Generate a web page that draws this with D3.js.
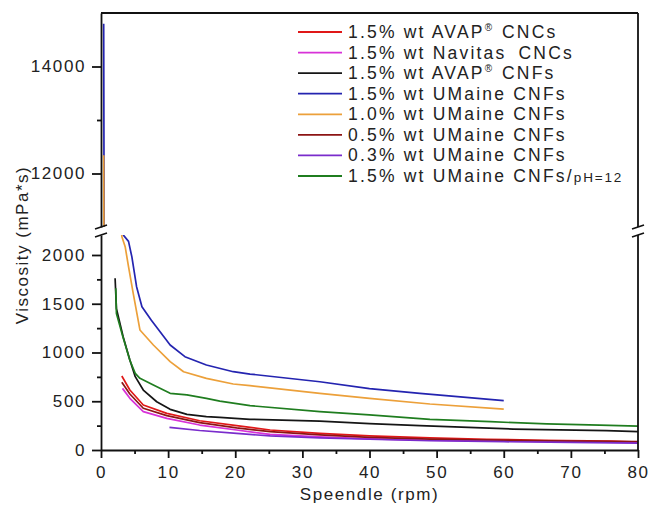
<!DOCTYPE html>
<html>
<head>
<meta charset="utf-8">
<script src="https://cdn.jsdelivr.net/npm/d3@7"></script>
<style>
  body { margin: 0; background: #fff; }
  text { font-family: "Liberation Sans", Arial, sans-serif; fill: #222; }
</style>
</head>
<body>
<div class="chart"></div>
<script>
// Viscosity vs spindle speed, broken y axis

// ---- data ----
let xTicks = [0, 10, 20, 30, 40, 50, 60, 70, 80];
let xMinor = [5, 15, 25, 35, 45, 55, 65, 75];
let yLowTicks = [0, 500, 1000, 1500, 2000];
let yLowMinor = [250, 750, 1250, 1750];
let yHighTicks = [12000, 14000];
let yHighMinor = [13000];

let seriesNames = [
  "AVAP CNCs 1.5", "Navitas CNCs 1.5", "AVAP CNFs 1.5", "UMaine CNFs 1.5",
  "UMaine CNFs 1.0", "UMaine CNFs 0.5", "UMaine CNFs 0.3", "UMaine CNFs 1.5 pH12"
];

let avapCNC = [[3.1,759],[4.3,615],[6.3,462],[9.8,376],[14.7,300],[20.2,250],[25.2,205],[32.6,171],[40,145],[49,125],[57.5,110],[66,100],[76,92],[80,80]];
let navitasCNC = [[3.2,632],[4.3,530],[6.3,393],[9.8,325],[14.7,256],[20.2,205],[25.2,160],[32.6,135],[40,115],[49,100],[60,92],[70,85],[80,75]];
let avapCNF = [[2.1,1761],[2.3,1450],[3.3,1162],[4.3,923],[5.1,752],[6.3,615],[8.3,495],[10.3,417],[12.8,365],[15.7,342],[17.7,335],[22.2,315],[32.6,297],[40,270],[47.5,250],[61.4,215],[75.3,198],[80,188]];
let umaine15 = [[0.4,14800],[0.5,9000],[3.2,2215],[4.1,2140],[4.6,1980],[5.3,1675],[6.1,1470],[7.5,1330],[10.3,1077],[12.5,957],[15.7,872],[19.7,803],[22.2,779],[32.6,700],[40,630],[47.5,581],[60,506]];
let umaine10 = [[0.4,12340],[0.5,8000],[3.1,2190],[3.6,2085],[4.1,1880],[4.8,1607],[5.8,1231],[7.8,1077],[10.3,906],[12.3,803],[15.7,735],[19.7,677],[22.2,660],[32.6,581],[40,530],[49,472],[60,420]];
let umaine05 = [[3.1,694],[4.3,574],[6.3,428],[9.8,352],[14.7,280],[20.2,227],[25.2,188],[32.6,155],[40,130],[49,112],[60,100],[70,92],[80,85]];
let umaine03 = [[10.2,232],[14.7,200],[20.2,170],[25.2,144],[32.6,125],[40,110],[49,95],[60,85],[70,78],[80,70]];
let umainePH12 = [[2.2,1658],[2.3,1400],[3.3,1150],[4.3,920],[5.1,786],[5.8,735],[7.8,667],[10.3,581],[12.8,565],[15.7,530],[17.7,502],[22.2,455],[32.6,393],[40,360],[49,315],[58,290],[66.4,267],[74.3,256],[80,245]];

let allSeries = [avapCNC, navitasCNC, avapCNF, umaine15, umaine10, umaine05, umaine03, umainePH12];
let colors = ["#e01818", "#d832d8", "#151515", "#2424b0", "#eca03a", "#8c1414", "#7a2ccc", "#1f7d1f"];

// ---- layout ----
let svgWidth = 653;
let svgHeight = 505;
let plotLeft = 101, plotRight = 638, plotTop = 13, plotBottom = 450;
let highBottom = 227, lowTop = 235;

let svg = d3.select(".chart")
  .append("svg")
  .attr("width", svgWidth)
  .attr("height", svgHeight);

let xScale = d3.scaleLinear().domain([0, 80]).range([plotLeft, plotRight]);
let yLow = d3.scaleLinear().domain([0, 2205]).range([plotBottom, lowTop]);
let yHigh = d3.scaleLinear().domain([11000, 15000]).range([highBottom, plotTop]);

// clip regions for the two panels
let defs = svg.append("defs");
defs.append("clipPath").attr("id", "clipHigh").append("rect")
  .attr("x", plotLeft).attr("y", plotTop).attr("width", plotRight - plotLeft).attr("height", highBottom - plotTop);
defs.append("clipPath").attr("id", "clipLow").append("rect")
  .attr("x", plotLeft).attr("y", lowTop).attr("width", plotRight - plotLeft).attr("height", plotBottom - lowTop);

// series lines
[["clipHigh", yHigh], ["clipLow", yLow]].forEach(function(p) {
  let line = d3.line().x(d => xScale(d[0])).y(d => p[1](d[1]));
  let g = svg.append("g").attr("clip-path", `url(#${p[0]})`);
  allSeries.forEach(function(s, i) {
    g.append("path")
      .attr("d", line(s))
      .attr("fill", "none")
      .attr("stroke", colors[i])
      .attr("stroke-width", 1.7)
      .attr("stroke-linejoin", "round");
  });
});

function styleAxis(g) {
  g.selectAll("path, line").attr("stroke", "#111").attr("stroke-width", 1.8);
  g.selectAll("text")
    .style("font-family", '"Liberation Sans", Arial, sans-serif')
    .style("font-size", "17px")
    .style("letter-spacing", "1.6px")
    .attr("fill", "#222");
}

let fmt = d3.format("d");

// x axis
let xAxisG = svg.append("g").attr("transform", `translate(0, ${plotBottom})`)
  .call(d3.axisBottom(xScale).tickValues(xTicks).tickFormat(fmt).tickSize(8).tickSizeOuter(0).tickPadding(8));
styleAxis(xAxisG);
let xMinorG = svg.append("g").attr("transform", `translate(0, ${plotBottom})`)
  .call(d3.axisBottom(xScale).tickValues(xMinor).tickSize(4).tickFormat(""));
xMinorG.select(".domain").remove();
styleAxis(xMinorG);

// y axes (two segments)
[[yLow, yLowTicks, yLowMinor], [yHigh, yHighTicks, yHighMinor]].forEach(function(a) {
  let g = svg.append("g").attr("transform", `translate(${plotLeft}, 0)`)
    .call(d3.axisLeft(a[0]).tickValues(a[1]).tickFormat(fmt).tickSize(9).tickSizeOuter(0).tickPadding(6));
  styleAxis(g);
  let m = svg.append("g").attr("transform", `translate(${plotLeft}, 0)`)
    .call(d3.axisLeft(a[0]).tickValues(a[2]).tickSize(4).tickFormat(""));
  m.select(".domain").remove();
  styleAxis(m);
});

// frame: top and right (with break)
let frame = svg.append("g").attr("stroke", "#111").attr("stroke-width", 1.8).attr("fill", "none");
frame.append("line").attr("x1", plotLeft).attr("x2", plotRight).attr("y1", plotTop).attr("y2", plotTop);
frame.append("line").attr("x1", plotRight).attr("x2", plotRight).attr("y1", plotTop).attr("y2", highBottom);
frame.append("line").attr("x1", plotRight).attr("x2", plotRight).attr("y1", lowTop).attr("y2", plotBottom);

// break marks
[plotLeft, plotRight].forEach(function(xp) {
  [highBottom, lowTop].forEach(function(yp) {
    frame.append("line")
      .attr("x1", xp - 6).attr("y1", yp + 2)
      .attr("x2", xp + 6).attr("y2", yp - 2)
      .attr("stroke-width", 1.5);
  });
});

// axis titles
svg.append("text")
  .attr("x", (plotLeft + plotRight) / 2)
  .attr("y", 500)
  .attr("text-anchor", "middle")
  .style("font-size", "17px")
  .style("letter-spacing", "1.6px")
  .text("Speendle (rpm)");

svg.append("text")
  .attr("transform", "translate(28, 245) rotate(-90)")
  .attr("text-anchor", "middle")
  .style("font-size", "17px")
  .style("letter-spacing", "1.5px")
  .text("Viscosity (mPa*s)");

// legend
let legend = svg.append("g");
let rowY = d3.scaleLinear().domain([0, 7]).range([32, 176]);
seriesNames.forEach(function(name, i) {
  let y = rowY(i);
  legend.append("line")
    .attr("x1", 298).attr("x2", 342)
    .attr("y1", y).attr("y2", y)
    .attr("stroke", colors[i]).attr("stroke-width", 1.8);
  let t = legend.append("text")
    .attr("x", 348).attr("y", y + 6)
    .style("font-size", "17.5px")
    .style("letter-spacing", "2.2px");
  if (i === 0 || i === 2) {
    t.append("tspan").text("1.5% wt AVAP");
    t.append("tspan").attr("dy", -7).style("font-size", "10px").style("letter-spacing", "0px").text("®");
    t.append("tspan").attr("dy", 7).attr("dx", 10).text(i === 0 ? "CNCs" : "CNFs");
  } else if (i === 1) {
    t.append("tspan").text("1.5% wt Navitas");
    t.append("tspan").attr("dx", 12).text("CNCs");
  } else if (i === 7) {
    t.append("tspan").text("1.5% wt UMaine CNFs/");
    t.append("tspan").style("font-size", "13.5px").style("letter-spacing", "1.8px").text("pH=12");
  } else {
    let pct = { 3: "1.5", 4: "1.0", 5: "0.5", 6: "0.3" }[i];
    t.text(`${pct}% wt UMaine CNFs`);
  }
});
</script>
</body>
</html>
